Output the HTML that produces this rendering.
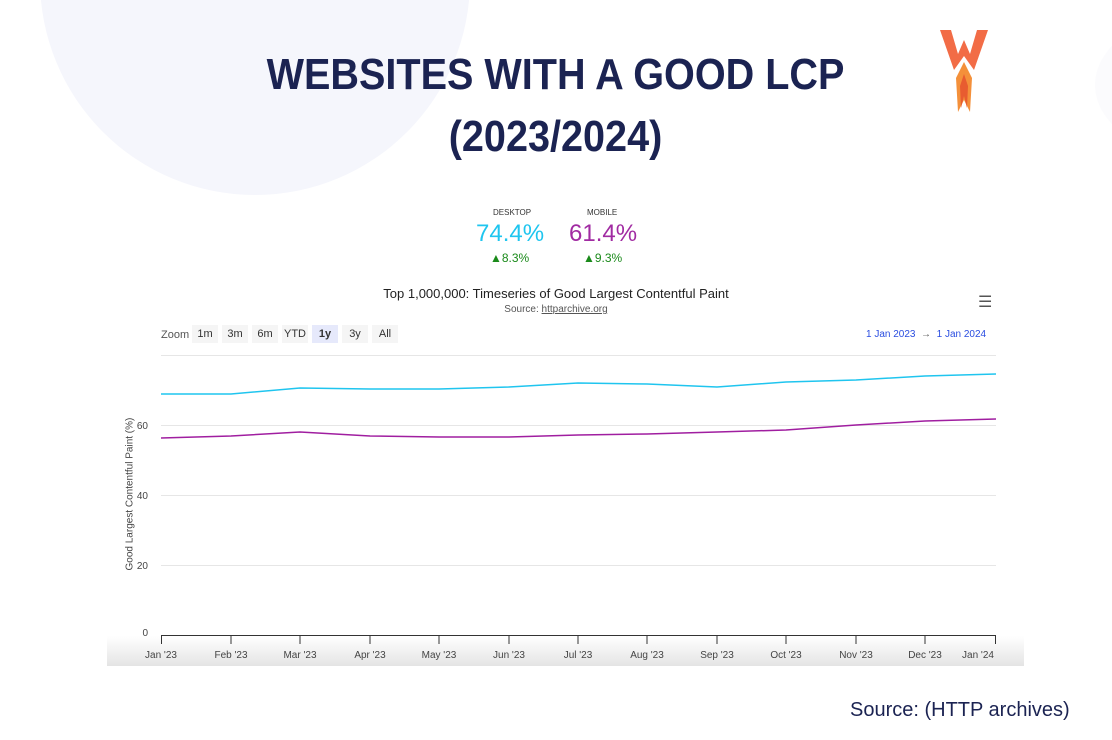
<!DOCTYPE html>
<html><head><meta charset="utf-8"><style>
body{margin:0;width:1112px;height:740px;background:#fff;position:relative;overflow:hidden;font-family:"Liberation Sans",sans-serif}
.t{position:absolute;left:0;width:1112px;text-align:center;color:#1b2352;font-weight:bold;font-size:44px;transform:scaleX(0.9);transform-origin:551px 0}
.a{position:absolute;white-space:nowrap}
</style></head><body>
<div style="position:absolute;left:40px;top:-235px;width:430px;height:430px;border-radius:50%;background:#f5f6fc"></div>
<div style="position:absolute;left:1095px;top:0;width:300px;height:170px;border-radius:50%;background:#fbfbfd"></div>
<div class="t" style="top:50px">WEBSITES WITH A GOOD LCP</div>
<div class="t" style="top:112px">(2023/2024)</div>
<svg style="position:absolute;left:940px;top:30px" width="50" height="84" viewBox="0 0 50 84">
<polygon points="0,0 11,0 18,24 24,10 30,24 37,0 48,0 34,40 24,26 14,40" fill="#f26c46"/>
<polygon points="24,32 32,48 30,82 24,70 18,82 16,48" fill="#f4903a"/>
<polygon points="24,44 28,56 27,78 24,66 21,78 20,56" fill="#e85c30"/>
</svg>
<div class="a" style="left:493px;top:208px;font-size:8px;color:#333">DESKTOP</div>
<div class="a" style="left:587px;top:208px;font-size:8px;color:#333">MOBILE</div>
<div class="a" style="left:476px;top:220px;font-size:24px;color:#1fc5ef">74.4%</div>
<div class="a" style="left:569px;top:220px;font-size:24px;color:#a12ba2">61.4%</div>
<div class="a" style="left:490px;top:251px;font-size:12px;color:#1a8a1a">▲8.3%</div>
<div class="a" style="left:583px;top:251px;font-size:12px;color:#1a8a1a">▲9.3%</div>
<div class="a" style="left:0;width:1112px;text-align:center;top:286px;font-size:13px;color:#222">Top 1,000,000: Timeseries of Good Largest Contentful Paint</div>
<div class="a" style="left:0;width:1112px;text-align:center;top:304px;font-size:10px;color:#555">Source: <u>httparchive.org</u></div>
<div class="a" style="left:978px;top:292px;font-size:16px;color:#555">☰</div>
<div class="a" style="left:161px;top:329px;font-size:11px;color:#555">Zoom</div>
<div class="a" style="left:192px;top:325px;font-size:11px;color:#333">
<span style="display:inline-block;width:26px;height:18px;line-height:18px;text-align:center;background:#f5f5f5;margin-right:4px">1m</span><span style="display:inline-block;width:26px;height:18px;line-height:18px;text-align:center;background:#f5f5f5;margin-right:4px">3m</span><span style="display:inline-block;width:26px;height:18px;line-height:18px;text-align:center;background:#f5f5f5;margin-right:4px">6m</span><span style="display:inline-block;width:26px;height:18px;line-height:18px;text-align:center;background:#f5f5f5;margin-right:4px">YTD</span><span style="display:inline-block;width:26px;height:18px;line-height:18px;text-align:center;background:#e6e9fb;font-weight:bold;margin-right:4px">1y</span><span style="display:inline-block;width:26px;height:18px;line-height:18px;text-align:center;background:#f5f5f5;margin-right:4px">3y</span><span style="display:inline-block;width:26px;height:18px;line-height:18px;text-align:center;background:#f5f5f5">All</span></div>
<div class="a" style="left:866px;top:329px;font-size:10px;color:#2a4de0">1 Jan 2023 &nbsp;<span style="color:#555">→</span>&nbsp; 1 Jan 2024</div>
<div class="a" style="left:60px;top:495px;transform:rotate(-90deg);font-size:10px;color:#444;width:140px;text-align:center">Good Largest Contentful Paint (%)</div>
<svg style="position:absolute;left:0;top:0" width="1112" height="740">
<defs><linearGradient id="g" x1="0" y1="0" x2="0" y2="1"><stop offset="0" stop-color="#fff"/><stop offset="1" stop-color="#e4e4e4"/></linearGradient></defs>
<rect x="107" y="636" width="917" height="30" fill="url(#g)"/>
<g stroke="#e6e6e6" stroke-width="1">
<line x1="161" x2="996" y1="355.5" y2="355.5"/><line x1="161" x2="996" y1="425.5" y2="425.5"/><line x1="161" x2="996" y1="495.5" y2="495.5"/><line x1="161" x2="996" y1="565.5" y2="565.5"/></g>
<line x1="161" x2="996" y1="635.5" y2="635.5" stroke="#333"/>
<g stroke="#333"><line x1="161.5" x2="161.5" y1="636" y2="644"/><line x1="231" x2="231" y1="636" y2="644"/><line x1="300" x2="300" y1="636" y2="644"/><line x1="370" x2="370" y1="636" y2="644"/><line x1="439" x2="439" y1="636" y2="644"/><line x1="509" x2="509" y1="636" y2="644"/><line x1="578" x2="578" y1="636" y2="644"/><line x1="647" x2="647" y1="636" y2="644"/><line x1="717" x2="717" y1="636" y2="644"/><line x1="786" x2="786" y1="636" y2="644"/><line x1="856" x2="856" y1="636" y2="644"/><line x1="925" x2="925" y1="636" y2="644"/><line x1="995.5" x2="995.5" y1="636" y2="644"/></g>
<g font-size="10" fill="#444" font-family="Liberation Sans">
<text x="148" y="636" text-anchor="end">0</text><text x="148" y="569" text-anchor="end">20</text><text x="148" y="499" text-anchor="end">40</text><text x="148" y="429" text-anchor="end">60</text>
<g text-anchor="middle"><text x="161" y="658">Jan '23</text><text x="231" y="658">Feb '23</text><text x="300" y="658">Mar '23</text><text x="370" y="658">Apr '23</text><text x="439" y="658">May '23</text><text x="509" y="658">Jun '23</text><text x="578" y="658">Jul '23</text><text x="647" y="658">Aug '23</text><text x="717" y="658">Sep '23</text><text x="786" y="658">Oct '23</text><text x="856" y="658">Nov '23</text><text x="925" y="658">Dec '23</text><text x="978" y="658">Jan '24</text></g></g>
<polyline fill="none" stroke="#1fc5ef" stroke-width="1.5" points="161,394 231,394 300,388 370,389 439,389 509,387 578,383 647,384 717,387 786,382 856,380 925,376 996,374"/>
<polyline fill="none" stroke="#a01ea0" stroke-width="1.5" points="161,438 231,436 300,432 370,436 439,437 509,437 578,435 647,434 717,432 786,430 856,425 925,421 996,419"/>
</svg>
<div class="a" style="left:850px;top:699px;font-size:20px;color:#1b2352">Source: (HTTP archives)</div>
</body></html>
